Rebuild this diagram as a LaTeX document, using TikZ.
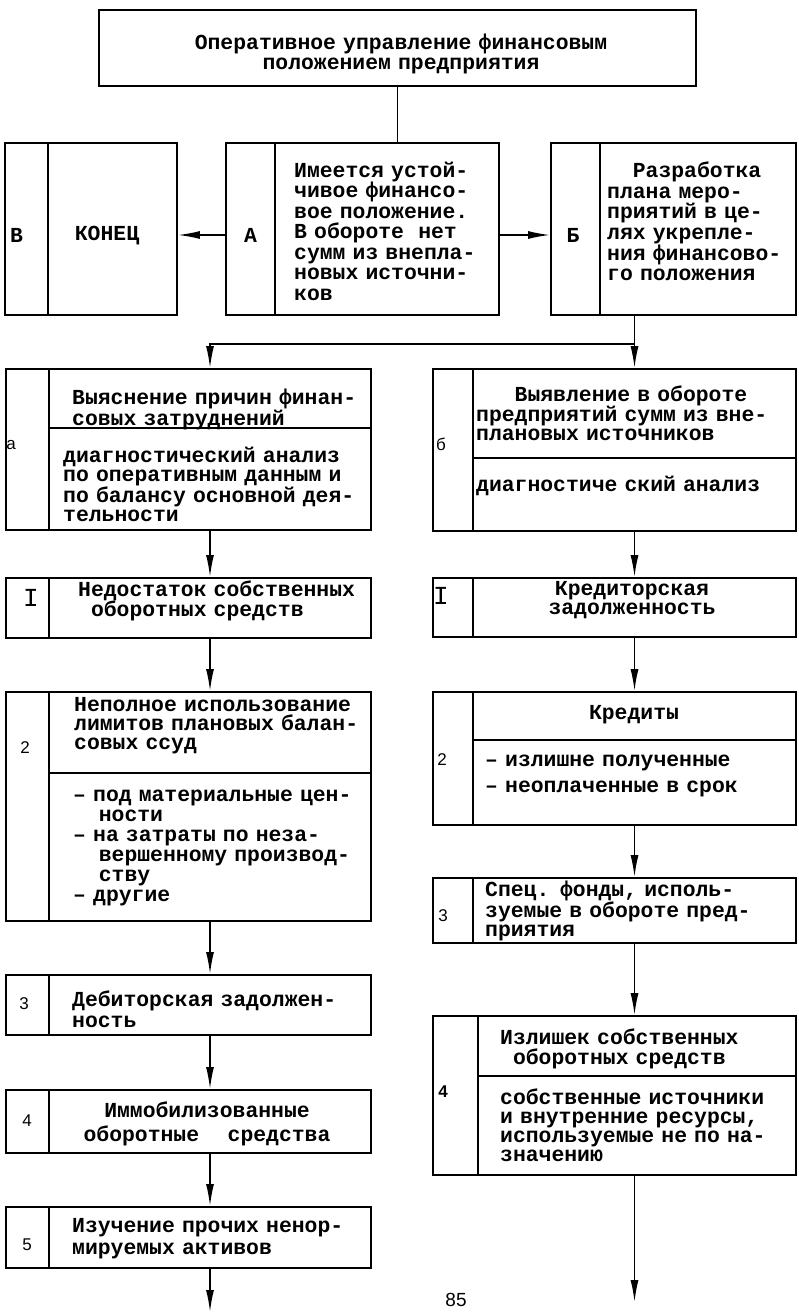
\documentclass[tikz,border=0pt]{standalone}
\usepackage{fontspec}
\setmainfont{Liberation Mono}
\newfontfamily\tagfont{Liberation Sans}
\usetikzlibrary{arrows.meta, positioning, calc}

\begin{document}
\begin{tikzpicture}[x=1pt, y=-1pt,
  cell/.style={draw, line width=1.8pt, inner sep=0pt},
  txt/.style={inner sep=0pt, anchor=base west, align=left, text width=330pt,
              font=\bfseries\fontsize{21.4}{#1}\selectfont},
  txtc/.style={inner sep=0pt, anchor=base, align=center, text width=330pt,
              font=\bfseries\fontsize{21.4}{#1}\selectfont},
  tagm/.style={inner sep=0pt, font=\bfseries\fontsize{21.4}{21.4}\selectfont},
  tagi/.style={inner sep=0pt, font=\fontsize{26}{26}\selectfont},
  tags/.style={inner sep=0pt, font=\tagfont\fontsize{17}{17}\selectfont},
  wire/.style={line width=1.6pt},
  arr/.style={wire, -{Latex[length=22pt, width=8pt]}}
]
\useasboundingbox (0,0) rectangle (798,1313);

% top box
\node[cell, minimum width=597pt, minimum height=76pt] (goal) at (397.5,48) {};
\node[txtc=20, text width=600pt] (goaltext) at (401,49.5)
  {Оперативное управление финансовым\\положением предприятия};

% first row: B, A, Б
\node[cell, minimum width=43pt, minimum height=172pt] (endtag) at (26.5,229) {};
\node[cell, minimum width=129pt, minimum height=172pt] (endbox) at (112.5,229) {};
\node[cell, minimum width=49pt, minimum height=172pt] (stabletag) at (250.5,229) {};
\node[cell, minimum width=224pt, minimum height=172pt] (stablebox) at (387,229) {};
\node[cell, minimum width=49pt, minimum height=172pt] (plantag) at (575.5,229) {};
\node[cell, minimum width=196pt, minimum height=172pt] (planbox) at (698,229) {};

\node[tagm] (endletter) at (16.5,235) {В};
\node[tagm, anchor=base] (endtext) at (107,241) {КОНЕЦ};
\node[tagm] (stableletter) at (250.5,235) {А};
\node[txt=20.5] (stabletext) at (294,177.5)
  {Имеется устой-\\чивое финансо-\\вое положение.\\В обороте\ \ нет\\сумм из внепла-\\новых источни-\\ков};
\node[tagm] (planletter) at (573,235) {Б};
\node[txt=20.7] (plantext) at (607,177.5)
  {\hspace*{1.2em}Разработка\\плана меро-\\приятий в це-\\лях укрепле-\\ния финансово-\\го положения};

% left column
\node[cell, minimum width=43pt, minimum height=161pt] (causetag) at (27.5,449.5) {};
\node[cell, minimum width=322pt, minimum height=59pt] (causetop) at (210,398.5) {};
\node[cell, minimum width=322pt, minimum height=102pt] (causebot) at (210,479) {};
\node[tags] (causeletter) at (11,445) {а};
\node[txt=18] (causetext) at (72,404.5) {Выяснение причин финан-\\совых затруднений};
\node[txt=19] (causenote) at (63,462.5)
  {диагностический анализ\\по оперативным данным и\\по балансу основной дея-\\тельности};

\node[cell, minimum width=43pt, minimum height=60pt] (lacktag) at (27.5,608) {};
\node[cell, minimum width=322pt, minimum height=60pt] (lackbox) at (210,608) {};
\node[tagi] (lackletter) at (31,598) {I};
\node[txt=20] (lacktext) at (78,596.5) {Недостаток собственных\\\hspace*{0.6em}оборотных средств};

\node[cell, minimum width=43pt, minimum height=229pt] (loanstag) at (27.5,806.5) {};
\node[cell, minimum width=322pt, minimum height=81pt] (loanstop) at (210,732.5) {};
\node[cell, minimum width=322pt, minimum height=148pt] (loansbot) at (210,847) {};
\node[tags] (loansletter) at (25,748) {2};
\node[txt=19] (loanstext) at (74,711.5) {Неполное использование\\лимитов плановых балан-\\совых ссуд};
\node[txt=20] (loansnote) at (73,801.5)
  {– под материальные цен-\\\hspace*{1.2em}ности\\– на затраты по неза-\\\hspace*{1.2em}вершенному производ-\\\hspace*{1.2em}ству\\– другие};

\node[cell, minimum width=43pt, minimum height=60pt] (debttag) at (27.5,1005) {};
\node[cell, minimum width=322pt, minimum height=60pt] (debtbox) at (210,1005) {};
\node[tags] (debtletter) at (24,1004) {3};
\node[txt=21] (debttext) at (72,1006.5) {Дебиторская задолжен-\\ность};

\node[cell, minimum width=43pt, minimum height=63pt] (immobtag) at (27.5,1121.5) {};
\node[cell, minimum width=322pt, minimum height=63pt] (immobbox) at (210,1121.5) {};
\node[tags] (immobletter) at (27,1121) {4};
\node[txtc=24] (immobtext) at (207,1117.5) {Иммобилизованные\\оборотные\ \ \ \ средства};

\node[cell, minimum width=43pt, minimum height=61pt] (othertag) at (27.5,1237.5) {};
\node[cell, minimum width=322pt, minimum height=61pt] (otherbox) at (210,1237.5) {};
\node[tags] (otherletter) at (27,1245) {5};
\node[txt=22] (othertext) at (72,1232.5) {Изучение прочих ненор-\\мируемых активов};
\coordinate (leftend) at (210,1312);

% right column
\node[cell, minimum width=40pt, minimum height=162pt] (hiddentag) at (453,450) {};
\node[cell, minimum width=323pt, minimum height=89pt] (hiddentop) at (634.5,413.5) {};
\node[cell, minimum width=323pt, minimum height=73pt] (hiddenbot) at (634.5,494.5) {};
\node[tags] (hiddenletter) at (441,444) {б};
\node[txt=19] (hiddentext) at (476,401)
  {\hspace*{1.8em}Выявление в обороте\\предприятий сумм из вне-\\плановых источников};
\node[txt=19] (hiddennote) at (476,491.5) {диагностиче ский анализ};

\node[cell, minimum width=40pt, minimum height=59pt] (credtag) at (453,607.5) {};
\node[cell, minimum width=323pt, minimum height=59pt] (credbox) at (634.5,607.5) {};
\node[tagi] (credletter) at (441,596) {I};
\node[txtc=19] (credtext) at (632,595.5) {Кредиторская\\задолженность};

\node[cell, minimum width=40pt, minimum height=133pt] (creditstag) at (453,758.5) {};
\node[cell, minimum width=323pt, minimum height=48pt] (creditstop) at (634.5,716) {};
\node[cell, minimum width=323pt, minimum height=85pt] (creditsbot) at (634.5,782.5) {};
\node[tags] (creditsletter) at (442,760) {2};
\node[txtc=19] (creditstext) at (634,719.5) {Кредиты};
\node[txt=26] (creditsnote) at (485,766.5) {– излишне полученные\\– неоплаченные в срок};

\node[cell, minimum width=40pt, minimum height=65pt] (fundstag) at (453,910.5) {};
\node[cell, minimum width=323pt, minimum height=65pt] (fundsbox) at (634.5,910.5) {};
\node[tags] (fundsletter) at (443,916) {3};
\node[txt=19.5] (fundstext) at (485,896) {Спец. фонды, исполь-\\зуемые в обороте пред-\\приятия};

\node[cell, minimum width=45pt, minimum height=159pt] (surplustag) at (455.5,1095.5) {};
\node[cell, minimum width=318pt, minimum height=60pt] (surplustop) at (637,1046) {};
\node[cell, minimum width=318pt, minimum height=99pt] (surplusbot) at (637,1125.5) {};
\node[tags, font=\tagfont\bfseries\fontsize{17}{17}\selectfont] (surplusletter) at (443,1092) {4};
\node[txt=20] (surplustext) at (500,1044.5) {Излишек собственных\\\hspace*{0.6em}оборотных средств};
\node[txt=19] (surplusnote) at (500,1104.5)
  {собственные источники\\и внутренние ресурсы,\\используемые не по на-\\значению};
\coordinate (rightend) at (634.5,1302);

\node[inner sep=0pt, anchor=north, font=\tagfont\fontsize{19}{19}\selectfont] (pagenum) at (456,1293) {85};

% connectors
\draw[wire] (goal.south) -- (goal.south |- stablebox.north);
\draw[arr] (stabletag.west |- stableletter) -- (endbox.east |- stableletter);
\draw[arr] (stablebox.east |- stableletter) -- (plantag.west |- stableletter);
\coordinate (split) at ($(hiddentop.north)+(0,-24)$);
\draw[wire] (planbox.south -| split) -- (split);
\draw[arr] (split) -- (hiddentop.north);
\draw[arr] (split) -| (causetop.north);

\draw[arr] (causebot.south) -- (lackbox.north);
\draw[arr] (lackbox.south) -- (loanstop.north);
\draw[arr] (loansbot.south) -- (debtbox.north);
\draw[arr] (debtbox.south) -- (immobbox.north);
\draw[arr] (immobbox.south) -- (otherbox.north);
\draw[arr] (otherbox.south) -- (leftend);

\draw[arr] (hiddenbot.south) -- (credbox.north);
\draw[arr] (credbox.south) -- (creditstop.north);
\draw[arr] (creditsbot.south) -- (fundsbox.north);
\draw[arr] (fundsbox.south) -- (fundsbox.south |- surplustop.north);
\draw[arr] (fundsbox.south |- surplusbot.south) -- (rightend);
\end{tikzpicture}
\end{document}
